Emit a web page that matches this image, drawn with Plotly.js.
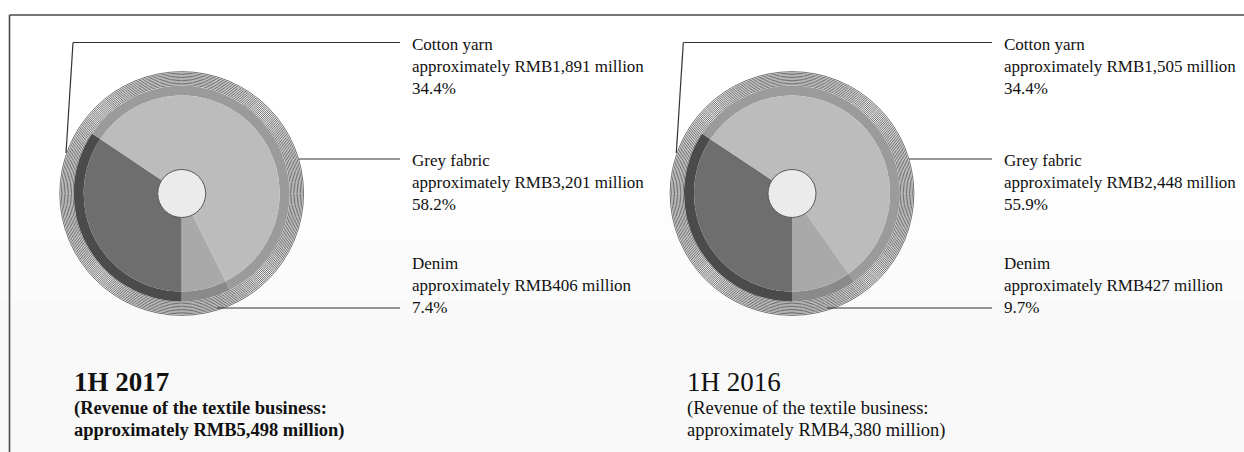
<!DOCTYPE html>
<html>
<head>
<meta charset="utf-8">
<script src="https://cdn.plot.ly/plotly-3.0.1.min.js"></script>
<style>html,body{margin:0;padding:0;background:#fff;}#chart{width:1244px;height:452px;}</style>
</head>
<body>
<div id="chart"></div>
<script>
// ---- data (slice order: clockwise from 6 o'clock) ----
const categories = ['Cotton yarn', 'Grey fabric', 'Denim'];
const revenue2017 = [1891, 3201, 406];
const revenue2016 = [1505, 2448, 427];
const share2017 = ['34.4%', '58.2%', '7.4%'];
const share2016 = ['34.4%', '55.9%', '9.7%'];
const periods = ['1H 2017', '1H 2016'];
const totals = [5498, 4380];

// ---- styling / layout ----
const W = 1244, H = 452;
const innerColors = ['#6e6e6e', '#bcbcbc', '#a9a9a9'];
const ringColors = ['#4b4b4b', '#9b9b9b', '#8a8a8a'];
const centers = [[181.7, 193.5], [792, 193.5]];
const labelX = [410, 1002];
const labelY = [66.5, 182, 285]; // cotton, grey, denim
const R_INNER = 98, R_RING = 108, R_HOLE = 24;
const serif = 'Liberation Serif, Times New Roman, serif';

const px = x => x / W;
const py = y => 1 - y / H;
function domainFor(c, r) {
  return {x: [px(c[0] - r), px(c[0] + r)], y: [py(c[1] + r), py(c[1] - r)]};
}

const datasets = [revenue2017, revenue2016];
const shares = [share2017, share2016];
const traces = [];
const shapes = [];
const annotations = [];

// faint background tone in lower area (soft steps)
[[200, '#fdfdfd'], [240, '#fbfbfb'], [300, '#f9f9f9']].forEach(([y, col]) => {
  shapes.push({type: 'rect', xref: 'paper', yref: 'paper', x0: 0, x1: 1, y0: 0, y1: py(y),
    fillcolor: col, line: {width: 0}, layer: 'below'});
});

datasets.forEach((vals, i) => {
  const c = centers[i];
  // striped outer ring
  for (let k = 0; k < 10; k++) {
    const r = 108.8 + k * 1.45;
    shapes.push({type: 'circle', xref: 'paper', yref: 'paper',
      x0: px(c[0] - r), x1: px(c[0] + r), y0: py(c[1] + r), y1: py(c[1] - r),
      line: {color: '#333', width: 0.7}, fillcolor: 'rgba(0,0,0,0)', layer: 'below'});
  }
  traces.push({type: 'pie', labels: categories, values: vals, sort: false,
    direction: 'clockwise', rotation: 180, hole: R_INNER / R_RING,
    domain: domainFor(c, R_RING), marker: {colors: ringColors, line: {width: 0}},
    textinfo: 'none', hoverinfo: 'none', showlegend: false});
  traces.push({type: 'pie', labels: categories, values: vals, sort: false,
    direction: 'clockwise', rotation: 180, hole: R_HOLE / R_INNER,
    domain: domainFor(c, R_INNER), marker: {colors: innerColors, line: {width: 0}},
    textinfo: 'none', hoverinfo: 'none', showlegend: false});
  // centre hub
  shapes.push({type: 'circle', xref: 'paper', yref: 'paper',
    x0: px(c[0] - R_HOLE), x1: px(c[0] + R_HOLE), y0: py(c[1] + R_HOLE), y1: py(c[1] - R_HOLE),
    fillcolor: '#ebebeb', line: {color: '#555', width: 1}, layer: 'above'});

  // leader lines
  const lx = labelX[i] - 10;
  const topX = c[0] - 108.7, botX = c[0] - 115.7;
  const seg = (x0, y0, x1, y1) => shapes.push({type: 'line', xref: 'paper', yref: 'paper',
    x0: px(x0), y0: py(y0), x1: px(x1), y1: py(y1), line: {color: '#333', width: 1.2}});
  seg(topX, 42.5, lx, 42.5);
  seg(topX, 42.5, botX, 153);
  seg(c[0] + 117, 159, lx, 159);
  seg(c[0] + 35, 308, lx, 308);

  // labels
  categories.forEach((name, j) => {
    annotations.push({xref: 'paper', yref: 'paper', x: px(labelX[i]), y: py(labelY[j]),
      xanchor: 'left', yanchor: 'middle', align: 'left', showarrow: false,
      text: name + '<br>approximately RMB' + vals[j].toLocaleString('en-US') + ' million<br>' + shares[i][j],
      font: {family: serif, size: 17, color: '#111'}});
  });

  // period titles
  const bold = i === 0;
  const tx = i === 0 ? 72 : 685;
  const wrap = s => bold ? '<b>' + s + '</b>' : s;
  annotations.push({xref: 'paper', yref: 'paper', x: px(tx), y: py(382),
    xanchor: 'left', yanchor: 'middle', align: 'left', showarrow: false,
    text: wrap(periods[i]), font: {family: serif, size: 27, color: '#111'}});
  const subLines = ['(Revenue of the textile business:',
    'approximately RMB' + totals[i].toLocaleString('en-US') + ' million)'];
  subLines.forEach((s, k) => {
    annotations.push({xref: 'paper', yref: 'paper', x: px(tx), y: py(408 + k * 22),
      xanchor: 'left', yanchor: 'middle', align: 'left', showarrow: false,
      text: wrap(s), font: {family: serif, size: 18.5, color: '#111'}});
  });
});

// frame lines (top and left)
shapes.push({type: 'line', xref: 'paper', yref: 'paper', x0: px(9.5), x1: 1, y0: py(15), y1: py(15),
  line: {color: '#4a4a4a', width: 1.6}});
shapes.push({type: 'line', xref: 'paper', yref: 'paper', x0: px(9.5), x1: px(9.5), y0: py(15), y1: 0,
  line: {color: '#4a4a4a', width: 1.6}});

Plotly.newPlot('chart', traces, {
  width: W, height: H, margin: {l: 0, r: 0, t: 0, b: 0},
  paper_bgcolor: '#ffffff', plot_bgcolor: '#ffffff',
  shapes: shapes, annotations: annotations, showlegend: false
}, {displayModeBar: false, staticPlot: true});
</script>
</body>
</html>
